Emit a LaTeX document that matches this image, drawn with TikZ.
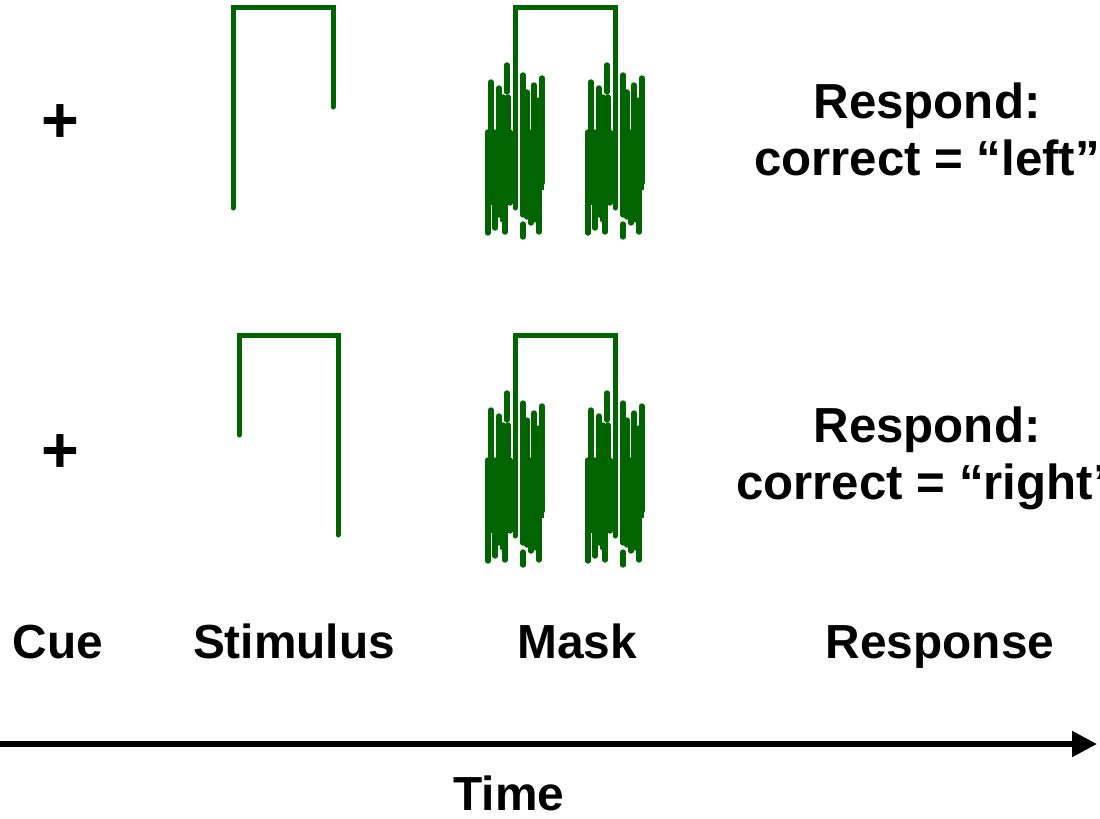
\documentclass[tikz,border=0pt]{standalone}
\usepackage{fontspec}
\setmainfont{Liberation Sans}
\usetikzlibrary{arrows.meta}

\definecolor{stimgreen}{RGB}{0,100,0}

\tikzset{
  stim/.style  = {stimgreen, line width=0.125cm, line cap=round},
  bar/.style   = {stimgreen, line width=0.135cm, line cap=round},
  lbl/.style   = {font=\fontsize{34}{40}\selectfont\bfseries, anchor=base},
  resp/.style  = {font=\fontsize{35}{40.5}\selectfont\bfseries, align=center},
  fix/.style   = {font=\fontsize{46}{50}\selectfont\bfseries},
}

% one half of the mask, leg of the bracket at x = 0
\newcommand{\maskhalf}[2]{%
\begin{scope}[shift={(#1,#2)}]
\fill[stimgreen] (-29,132) rectangle (-3,205);
\fill[stimgreen] (  5,132) rectangle (29,190);
\draw[bar] (-27,132) -- (-27,233);
\draw[bar] (-24, 82) -- (-24,200);
\draw[bar] (-20,132) -- (-20,228);
\draw[bar] (-16, 88) -- (-16,215);
\draw[bar] (-12, 97) -- (-12,220);
\draw[bar] (-10,150) -- (-10,232);
\draw[bar] ( -8, 65) -- ( -8, 92);
\draw[bar] ( -7, 97) -- ( -7,195);
\draw[bar] ( -5,132) -- ( -5,203);
\draw[bar] (  8, 75) -- (  8,215);
\draw[bar] (  8,224) -- (  8,237);
\draw[bar] ( 12, 92) -- ( 12,217);
\draw[bar] ( 16,132) -- ( 16,223);
\draw[bar] ( 19, 85) -- ( 19,205);
\draw[bar] ( 21,132) -- ( 21,220);
\draw[bar] ( 24,100) -- ( 24,232);
\draw[bar] ( 27, 78) -- ( 27,183);
\end{scope}}

\begin{document}
\begin{tikzpicture}[x=0.025cm, y=-0.025cm]

\useasboundingbox (0,0) rectangle (1100,818);

% fixation crosses
\node[fix] (cue1) at (60,124) {+};
\node[fix] (cue2) at (60,454) {+};

% stimuli
\draw[stim] (233,208) -- (233,7) -- (333,7) -- (333,107);
\draw[stim] (239,435) -- (239,335) -- (338,335) -- (338,535);

% masks
\maskhalf{515}{0}
\maskhalf{615}{0}
\draw[stim] (515,208) -- (515,7) -- (615,7) -- (615,208);

\maskhalf{515}{328}
\maskhalf{615}{328}
\draw[stim] (515,536) -- (515,335) -- (615,335) -- (615,536);

% responses
\node[resp] (resp1) at (927,129) {Respond:\\correct = “left”};
\node[resp] (resp2) at (927,458) {Respond:\\correct = “right”};

% phase labels
\node[lbl] (lblcue)  at ( 58,658) {Cue};
\node[lbl] (lblstim) at (294,658) {Stimulus};
\node[lbl] (lblmask) at (577,658) {Mask};
\node[lbl] (lblresp) at (940,658) {Response};

% time axis
\coordinate (tstart) at (0,744);
\coordinate (tend)   at (1097,744);
\draw[line width=0.13cm, -{Triangle[length=0.62cm, width=0.62cm]}] (tstart) -- (tend);
\node[lbl] (time) at (509,810) {Time};

\end{tikzpicture}
\end{document}
